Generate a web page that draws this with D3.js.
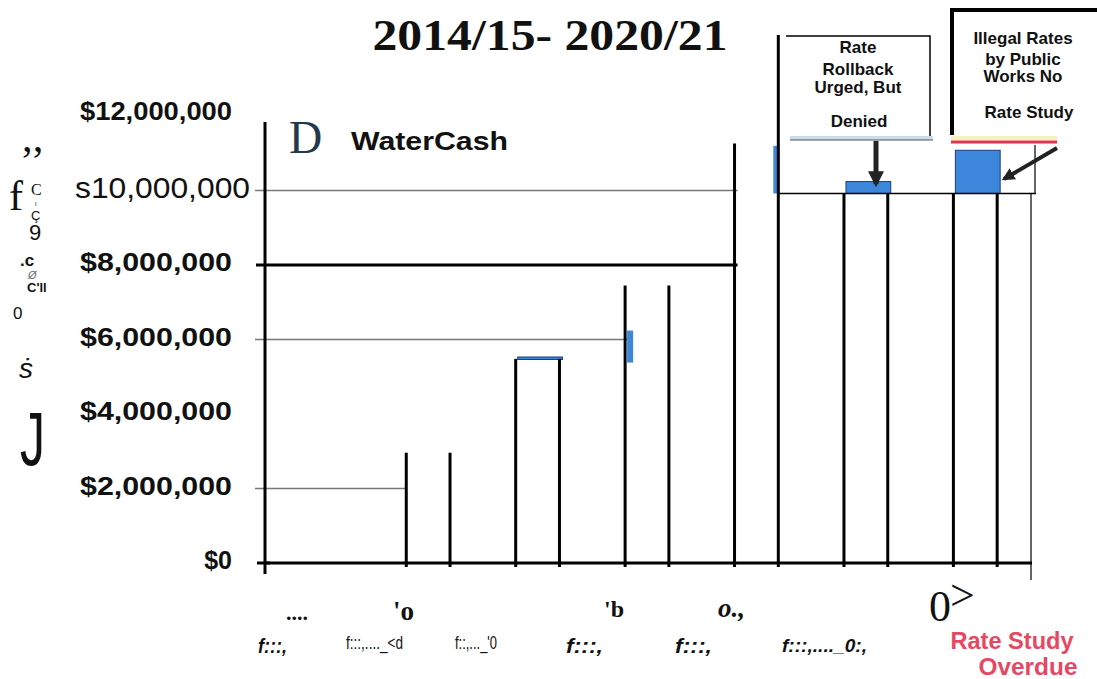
<!DOCTYPE html>
<html>
<head>
<meta charset="utf-8">
<script src="https://cdn.jsdelivr.net/npm/d3@7"></script>
<style>
  body { margin: 0; background: #fff; }
  svg { display: block; }
</style>
</head>
<body>
<div id="chart"></div>
<script>
// chart data
var years = ["2014/15", "2015/16", "2016/17", "2017/18", "2018/19", "2019/20", "2020/21"];
var waterCash = [null, 2960000, 5480000, 7450000, 11260000, 9920000, 9920000];
var blueFrom = [null, null, 5480000, 5380000, 9920000, 9920000, 9920000];
var blueTo = [null, null, 5530000, 6240000, 11200000, 10240000, 11080000];
var blueSide = [null, null, "full", "left", "right", "full", "full"];
var yTicks = [0, 2000000, 4000000, 6000000, 8000000, 10000000, 12000000];
var yTickLabels = ["$0", "$2,000,000", "$4,000,000", "$6,000,000", "$8,000,000", "s10,000,000", "$12,000,000"];
var priorLevel = 9920000;

var width = 1097, height = 679;

var svg = d3.select("#chart")
  .append("svg")
  .attr("width", width)
  .attr("height", height);

var x = d3.scaleBand().domain(years).range([264, 1030]).paddingInner(0.6).paddingOuter(0.3);
var y = d3.scaleLinear().domain([0, 12000000]).range([563, 116]);
var bw = x.bandwidth();

// helper for text
function label(txt, px, py, opt) {
  opt = opt || {};
  var t = svg.append("text")
    .attr("x", px)
    .attr("y", py)
    .attr("font-family", opt.family || "Liberation Sans, Arial, sans-serif")
    .attr("font-size", opt.size || 20)
    .attr("font-weight", opt.weight || "normal")
    .attr("font-style", opt.style || "normal")
    .attr("fill", opt.fill || "#111")
    .attr("text-anchor", opt.anchor || "start")
    .text(txt);
  if (opt.len) t.attr("textLength", opt.len).attr("lengthAdjust", opt.adjust || "spacingAndGlyphs");
  return t;
}

// gridlines (each stops at a different place in the scan)
var gridEnd = { 2000000: x("2015/16"), 6000000: x("2017/18") + 4, 8000000: x("2018/19") + 3, 10000000: x("2018/19") + 3 };
[2000000, 6000000, 10000000].forEach(function (v) {
  svg.append("line")
    .attr("x1", 255).attr("x2", gridEnd[v])
    .attr("y1", y(v)).attr("y2", y(v))
    .attr("stroke", "#777").attr("stroke-width", 1.3);
});
svg.append("line")
  .attr("x1", 256).attr("x2", gridEnd[8000000])
  .attr("y1", y(8000000)).attr("y2", y(8000000))
  .attr("stroke", "#000").attr("stroke-width", 3);

// y axis
svg.append("line")
  .attr("x1", 265).attr("x2", 265)
  .attr("y1", 122).attr("y2", 574)
  .attr("stroke", "#000").attr("stroke-width", 3);
svg.append("line")
  .attr("x1", 257).attr("x2", 270)
  .attr("y1", y(0)).attr("y2", y(0))
  .attr("stroke", "#000").attr("stroke-width", 3);

svg.selectAll(".ylab")
  .data(yTicks)
  .enter()
  .append("text")
  .attr("class", "ylab")
  .attr("x", function (d) { return d === 10000000 ? 250 : 232; })
  .attr("y", function (d) { return y(d) - (d === 12000000 ? 5 : 3); })
  .attr("dy", "0.36em")
  .attr("text-anchor", "end")
  .attr("font-family", "Liberation Sans, Arial, sans-serif")
  .attr("font-weight", function (d) { return d === 10000000 ? "normal" : "bold"; })
  .attr("font-size", function (d) { return d === 10000000 ? 30 : 25; })
  .attr("textLength", function (d) { return d === 0 ? null : (d === 10000000 ? 175 : 152); })
  .attr("lengthAdjust", "spacingAndGlyphs")
  .attr("fill", "#111")
  .text(function (d, i) { return yTickLabels[i]; });

// x axis
svg.append("line")
  .attr("x1", 264).attr("x2", 1032)
  .attr("y1", y(0)).attr("y2", y(0))
  .attr("stroke", "#000").attr("stroke-width", 3);
svg.append("line")
  .attr("x1", 1031).attr("x2", 1031)
  .attr("y1", y(priorLevel)).attr("y2", 580)
  .attr("stroke", "#000").attr("stroke-width", 1.2);

// blue fills
var blueData = years.map(function (d, i) {
  return { year: d, from: blueFrom[i], to: blueTo[i], side: blueSide[i] };
}).filter(function (d) { return d.from !== null; });

svg.append("g")
  .selectAll("rect")
  .data(blueData)
  .enter()
  .append("rect")
  .attr("x", function (d) {
    if (d.side === "left") return x(d.year) + 2;
    if (d.side === "right") return x(d.year) + bw - 5;
    return x(d.year) + 2;
  })
  .attr("width", function (d) { return d.side === "full" ? bw + 1 : 6; })
  .attr("y", function (d) { return y(d.to); })
  .attr("height", function (d) { return Math.max(2.5, y(d.from) - y(d.to)); })
  .attr("fill", "#3c87dc")
  .attr("stroke", function (d) { return d.side === "full" ? "#1d3f7a" : "none"; })
  .attr("stroke-width", 1);

// bar sides drawn as open outlines
var barData = years.map(function (d, i) { return { year: d, v: waterCash[i] }; })
  .filter(function (d) { return d.v !== null; });

var sides = svg.append("g");
barData.forEach(function (d) {
  var top = y(d.v);
  sides.append("line")
    .attr("x1", x(d.year)).attr("x2", x(d.year))
    .attr("y1", top).attr("y2", y(0) + 4)
    .attr("stroke", "#000").attr("stroke-width", 3);
  sides.append("line")
    .attr("x1", x(d.year) + bw).attr("x2", x(d.year) + bw)
    .attr("y1", d.year === "2018/19" ? 35 : top).attr("y2", y(0) + 4)
    .attr("stroke", "#000").attr("stroke-width", 3);
});

// prior-level baseline under the last bars
svg.append("line")
  .attr("x1", x("2018/19") + bw).attr("x2", 1036)
  .attr("y1", y(priorLevel)).attr("y2", y(priorLevel))
  .attr("stroke", "#000").attr("stroke-width", 1.6);
svg.append("line")
  .attr("x1", 1035).attr("x2", 1035)
  .attr("y1", 145).attr("y2", y(priorLevel))
  .attr("stroke", "#000").attr("stroke-width", 1.2);

// annotation box 1
svg.append("rect")
  .attr("x", 784).attr("y", 36).attr("width", 146).attr("height", 101)
  .attr("fill", "#fff").attr("stroke", "none");
svg.append("path")
  .attr("d", "M786,36 H930 V137")
  .attr("fill", "none").attr("stroke", "#000").attr("stroke-width", 1.5);
svg.append("line")
  .attr("x1", 790).attr("x2", 933).attr("y1", 138).attr("y2", 138)
  .attr("stroke", "#c8dcea").attr("stroke-width", 4);
svg.append("line")
  .attr("x1", 790).attr("x2", 933).attr("y1", 140).attr("y2", 140)
  .attr("stroke", "#555").attr("stroke-width", 1);
label("Rate", 858, 53, { weight: "bold", size: 17, anchor: "middle" });
label("Rollback", 858, 75, { weight: "bold", size: 17, anchor: "middle" });
label("Urged, But", 858, 93, { weight: "bold", size: 17, anchor: "middle" });
label("Denied", 859, 127, { weight: "bold", size: 17, anchor: "middle" });

// annotation box 2
svg.append("line")
  .attr("x1", 951).attr("x2", 1057).attr("y1", 138).attr("y2", 138)
  .attr("stroke", "#f6efc0").attr("stroke-width", 4);
svg.append("line")
  .attr("x1", 951).attr("x2", 1057).attr("y1", 142).attr("y2", 142)
  .attr("stroke", "#e8344a").attr("stroke-width", 3);
svg.append("path")
  .attr("d", "M952,135 V10 H1097")
  .attr("fill", "none").attr("stroke", "#000").attr("stroke-width", 4);
label("Illegal Rates", 1023, 44, { weight: "bold", size: 17, anchor: "middle" });
label("by Public", 1023, 65, { weight: "bold", size: 17, anchor: "middle" });
label("Works No", 1023, 82, { weight: "bold", size: 17, anchor: "middle" });
label("Rate Study", 1029, 118, { weight: "bold", size: 17, anchor: "middle" });

// arrows
var defs = svg.append("defs");
defs.append("marker")
  .attr("id", "head")
  .attr("viewBox", "0 0 10 10")
  .attr("refX", 8).attr("refY", 5)
  .attr("markerWidth", 3.2).attr("markerHeight", 3.2)
  .attr("orient", "auto")
  .append("path")
  .attr("d", "M0,0 L10,5 L0,10 z")
  .attr("fill", "#222");
svg.append("line")
  .attr("x1", 876).attr("y1", 141).attr("x2", 876).attr("y2", 184)
  .attr("stroke", "#222").attr("stroke-width", 5)
  .attr("marker-end", "url(#head)");
svg.append("line")
  .attr("x1", 1057).attr("y1", 148).attr("x2", 1004).attr("y2", 179)
  .attr("stroke", "#222").attr("stroke-width", 4)
  .attr("marker-end", "url(#head)");

// title and legend-ish
label("2014/15- 2020/21", 550, 50, { family: "Liberation Serif, Times New Roman, serif", weight: "bold", size: 44, anchor: "middle", len: 355 });
label("D", 289, 153, { family: "Liberation Serif, Times New Roman, serif", size: 46, fill: "#23384c" });
label("WaterCash", 351, 150, { weight: "bold", size: 26, len: 157 });

// garbled y-axis title from the scan
var serif = "Liberation Serif, Times New Roman, serif";
label("\u2019\u2019", 20, 175, { family: serif, size: 42 });
label("f", 9, 210, { family: serif, size: 42 });
label("C", 31, 195, { family: serif, size: 16 });
label("I", 35, 206, { size: 6 });
label("\u00c7", 31, 220, { size: 13 });
label("9", 29, 240, { size: 22 });
label(".c", 20, 266, { weight: "bold", size: 17 });
label("\u00d8", 28, 279, { style: "italic", size: 11, fill: "#666" });
label("C'll", 27, 292, { weight: "bold", size: 13 });
label("0", 13, 319, { size: 17 });
label("\u1e61", 19, 378, { style: "italic", size: 28 });
label("J", 20, 465, { size: 76, len: 25 });

// garbled x-axis labels from the scan
label("....", 286, 620, { family: serif, weight: "bold", size: 22 });
label("'o", 393, 620, { family: serif, weight: "bold", size: 27 });
label("'b", 604, 617, { family: serif, weight: "bold", size: 24 });
label("o.,", 718, 617, { family: serif, weight: "bold", style: "italic", size: 27 });
label("0", 929, 621, { family: serif, size: 44 });
label(">", 950, 610, { family: serif, size: 44 });

label("f:::,", 258, 653, { weight: "bold", style: "italic", size: 21, len: 29 });
label("f:::,...._<d", 346, 649, { size: 19, len: 57 });
label("f::,..._'0", 455, 649, { size: 19, len: 42 });
label("f:::,", 566, 653, { weight: "bold", style: "italic", size: 21, len: 37 });
label("f:::,", 675, 653, { weight: "bold", style: "italic", size: 21, len: 37 });
label("f:::,...._0:,", 782, 652, { weight: "bold", style: "italic", size: 19, len: 85 });

label("Rate Study", 1012, 649, { weight: "bold", size: 23, anchor: "middle", fill: "#e54862", len: 123 });
label("Overdue", 1028, 675, { weight: "bold", size: 23, anchor: "middle", fill: "#e54862", len: 99 });
</script>
</body>
</html>
